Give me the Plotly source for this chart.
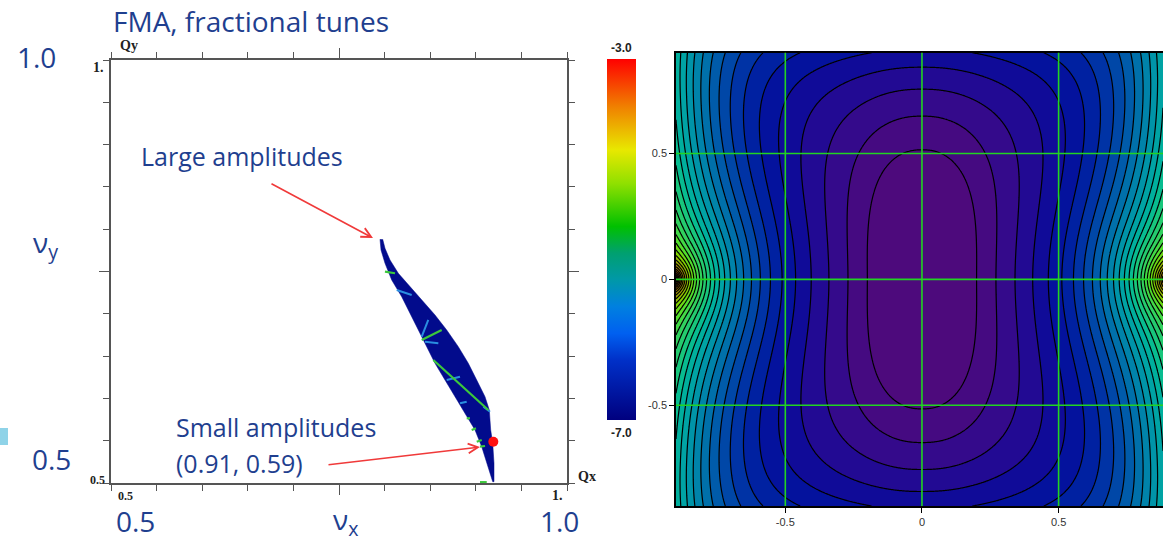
import numpy as np
import plotly.graph_objects as go

W, H = 1163, 541
BLUE = "#1F3F8F"

# ---------------- left panel: FMA footprint (fractional tunes) ----------------
qx_left = [0.79496, 0.79605, 0.80044, 0.80779, 0.81875, 0.82785, 0.83695, 0.84616, 0.85526,
           0.86623, 0.87719, 0.88816, 0.89912, 0.90647, 0.91195, 0.91634, 0.91853]
qy_left = [0.78806, 0.77541, 0.75969, 0.73995, 0.72021, 0.70059, 0.68085, 0.66111, 0.64149,
           0.62175, 0.60201, 0.58239, 0.56265, 0.54291, 0.52329, 0.50745, 0.50154]
qx_right = [0.91996, 0.91996, 0.91853, 0.91634, 0.91480, 0.91009, 0.90099, 0.89178, 0.88081,
            0.86809, 0.85526, 0.84243, 0.82785, 0.81502, 0.80592, 0.80044, 0.79792]
qy_right = [0.50154, 0.52329, 0.54693, 0.56265, 0.58629, 0.60201, 0.62175, 0.64149, 0.66111,
            0.68085, 0.69858, 0.71430, 0.73203, 0.74787, 0.76359, 0.77742, 0.78806]

green_streaks = [
    ((0.8534, 0.9137), (0.6454, 0.5863)),
    ((0.8407, 0.8626), (0.6690, 0.6809)),
    ((0.8004, 0.8114), (0.7498, 0.7479)),
    ((0.8900, 0.8936), (0.5765, 0.5765)),
    ((0.8955, 0.9002), (0.5626, 0.5646)),
    ((0.9010, 0.9065), (0.5488, 0.5508)),
    ((0.9046, 0.9101), (0.5429, 0.5437)),
    ((0.9046, 0.9120), (0.5010, 0.5010)),
]
cyan_streaks = [
    ((0.8133, 0.8297), (0.7281, 0.7222)),
    ((0.8407, 0.8479), (0.6729, 0.6927)),
    ((0.8443, 0.8589), (0.6670, 0.6651)),
    ((0.8681, 0.8827), (0.6217, 0.6256)),
    ((0.8827, 0.8900), (0.5942, 0.5961)),
    ((0.9083, 0.9156), (0.5902, 0.5843)),
]
small_amp_point = (0.9192, 0.5488)

diffusion_range = (-7.0, -3.0)
fma_colorscale = [
    [0.0, "#00007f"], [0.166, "#0030c8"], [0.24, "#0060f0"], [0.314, "#0080e0"],
    [0.388, "#0098a8"], [0.462, "#00a070"], [0.536, "#00c000"], [0.655, "#90e000"],
    [0.748, "#e8e800"], [0.868, "#f08000"], [1.0, "#ff0000"],
]

# ---------------- right panel: field map model ----------------
# growth profiles along x and y (coefficients of |t|, t^2, t^4), combined as a superellipse
px_coef = (17.56, -15.8, 21.2)
py_coef = (6.75, 0.0, 3.1)
n_super = 2.5
src_x = [-0.915, 0.915]          # singular points on the x axis
sigma, R0 = 5.0, 0.8             # strength and reach of the singular terms
first_level = 3.14               # value of the innermost drawn contour
grid_vals = [-0.5, 0.0, 0.5]
xg = np.linspace(-0.9, 0.882, 461)
yg = np.linspace(-0.9, 0.9, 461)

Xg, Yg = np.meshgrid(xg, yg)
ax_, ay_ = np.abs(Xg), np.abs(Yg)
P = px_coef[0] * ax_ + px_coef[1] * ax_**2 + px_coef[2] * ax_**4
Q = py_coef[0] * ay_ + py_coef[1] * ay_**2 + py_coef[2] * ay_**4
F = (P**n_super + Q**n_super) ** (1 / n_super)
S = sum(0.5 * sigma * np.log1p(R0**2 / ((Xg - sx) ** 2 + Yg**2)) for sx in src_x)
S0 = sum(0.5 * sigma * np.log1p(R0**2 / sx**2) for sx in src_x)
Z = F + S - S0 - first_level + 1.0     # innermost contour at level 1
Z = np.minimum(Z, 45)

band_colors = [
    [0, "#4d0a7c"], [1, "#3d0a86"], [2, "#2c0a8f"], [3, "#1a0a96"], [4, "#0a0c9a"],
    [5, "#00169e"], [6, "#0026a2"], [7, "#0038a6"], [8, "#004ca8"], [9, "#0060aa"],
    [10, "#0074aa"], [11, "#0086aa"], [12, "#0096a8"], [13, "#00a4a4"], [14, "#00b09c"],
    [15, "#08bc90"], [16, "#18c67c"], [18, "#30d060"], [20, "#50e030"], [22, "#80d800"],
    [24, "#a0b000"], [26, "#a08000"], [28, "#905000"], [32, "#703000"],
]
zmax = 32
field_colorscale = [[b / zmax, c] for b, c in band_colors]

# ---------------- figure ----------------
fig = go.Figure()

fig.add_trace(go.Scatter(
    x=qx_left + qx_right, y=qy_left + qy_right, mode="lines", fill="toself",
    fillcolor="#020b8c", line=dict(color="#020b8c", width=0.5),
    xaxis="x", yaxis="y", hoverinfo="skip", showlegend=False))
for xs, ys in cyan_streaks:
    fig.add_trace(go.Scatter(x=list(xs), y=list(ys), mode="lines",
                             line=dict(color="#2a8ee0", width=2), xaxis="x", yaxis="y",
                             showlegend=False, hoverinfo="skip"))
for xs, ys in green_streaks:
    fig.add_trace(go.Scatter(x=list(xs), y=list(ys), mode="lines",
                             line=dict(color="#3cc83c", width=2.2), xaxis="x", yaxis="y",
                             showlegend=False, hoverinfo="skip"))
fig.add_trace(go.Scatter(x=[small_amp_point[0]], y=[small_amp_point[1]], mode="markers",
                         marker=dict(color="#ff1010", size=10), xaxis="x", yaxis="y",
                         showlegend=False, hoverinfo="skip"))
fig.add_trace(go.Scatter(
    x=[0.6], y=[0.6], mode="markers", xaxis="x", yaxis="y", showlegend=False,
    hoverinfo="skip",
    marker=dict(size=0.1, opacity=0, color=[diffusion_range[0]], cmin=diffusion_range[0],
                cmax=diffusion_range[1], colorscale=fma_colorscale, showscale=True,
                colorbar=dict(x=607 / W, xanchor="left", y=1 - 239.5 / H, yanchor="middle",
                              lenmode="pixels", len=361, thicknessmode="pixels",
                              thickness=29, outlinewidth=0, showticklabels=False,
                              ticks="", xpad=0, ypad=0))))

fig.add_trace(go.Contour(
    x=xg, y=yg, z=Z, xaxis="x2", yaxis="y2", colorscale=field_colorscale,
    zmin=0, zmax=zmax, autocontour=False,
    contours=dict(start=1, end=45, size=1, coloring="fill"),
    line=dict(color="black", width=1.2), showscale=False, hoverinfo="skip"))

fig.update_layout(
    width=W, height=H, margin=dict(l=0, r=0, t=0, b=0),
    paper_bgcolor="white", plot_bgcolor="white", showlegend=False,
    xaxis=dict(domain=[111 / W, 567 / W], range=[0.5, 1.0], showgrid=False, zeroline=False,
               showline=True, linecolor="#555", linewidth=1.5, mirror="ticks",
               ticks="outside", tickvals=[0.75], ticklen=10, tickcolor="#555",
               tickwidth=1.3, showticklabels=False,
               minor=dict(tick0=0.5, dtick=0.05, ticks="outside", ticklen=6,
                          tickcolor="#555", tickwidth=1.3)),
    yaxis=dict(domain=[1 - 483 / H, 1 - 60 / H], range=[0.5, 1.0], showgrid=False,
               zeroline=False, showline=True, linecolor="#555", linewidth=1.5,
               mirror="ticks", ticks="outside", tickvals=[0.75], ticklen=10,
               tickcolor="#555", tickwidth=1.3, showticklabels=False,
               minor=dict(tick0=0.5, dtick=0.05, ticks="outside", ticklen=6,
                          tickcolor="#555", tickwidth=1.3)),
    xaxis2=dict(domain=[676 / W, 1.0], range=[-0.9, 0.882], showgrid=False, zeroline=False,
                showline=True, linecolor="black", linewidth=1.5, mirror=True,
                ticks="outside", tickvals=grid_vals, ticktext=["-0.5", "0", "0.5"],
                ticklen=5, tickcolor="black",
                tickfont=dict(family="Liberation Sans", size=11, color="#333"),
                anchor="y2", layer="above traces"),
    yaxis2=dict(domain=[1 - 506 / H, 1 - 52.7 / H], range=[-0.9, 0.9], showgrid=False,
                zeroline=False, showline=True, linecolor="black", linewidth=1.5,
                ticks="outside", tickvals=grid_vals, ticktext=["-0.5", "0", "0.5"],
                ticklen=5, tickcolor="black",
                tickfont=dict(family="Liberation Sans", size=11, color="#333"),
                anchor="x2", layer="above traces"),
)

shapes = []
for g in grid_vals:
    shapes.append(dict(type="line", xref="x2", yref="y2 domain", x0=g, x1=g, y0=0, y1=1,
                       line=dict(color="#22d422", width=1.6), layer="above"))
    shapes.append(dict(type="line", xref="x2 domain", yref="y2", x0=0, x1=1, y0=g, y1=g,
                       line=dict(color="#22d422", width=1.6), layer="above"))
shapes.append(dict(type="rect", xref="paper", yref="paper", x0=0, x1=8 / W,
                   y0=1 - 445 / H, y1=1 - 428 / H, fillcolor="#8fd3e8", line=dict(width=0)))
fig.update_layout(shapes=shapes)


def px(xp):
    return xp / W


def py(yp):
    return 1 - yp / H


ann = []


def text(s, xp, yp, size, color=BLUE, family="Open Sans", xanchor="center", bold=False):
    ann.append(dict(text=(f"<b>{s}</b>" if bold else s), x=px(xp), y=py(yp), xref="paper",
                    yref="paper", xanchor=xanchor, yanchor="middle", showarrow=False,
                    font=dict(family=family, size=size, color=color)))


text("FMA, fractional tunes", 111, 21, 28, xanchor="left")
text("1.0", 36, 57, 28)
text("ν<sub>y</sub>", 45, 244, 28)
text("0.5", 51, 459, 28)
text("0.5", 135, 521, 28)
text("ν<sub>x</sub>", 345, 521, 28)
text("1.0", 559, 521, 28)
text("Large amplitudes", 139, 156, 25, xanchor="left")
text("Small amplitudes", 174, 427, 25, xanchor="left")
text("(0.91, 0.59)", 174, 463, 25, xanchor="left")

serif = "Liberation Serif"
text("Qy", 129, 46, 14, color="#222", family=serif, bold=True)
text("1.", 106, 67, 14, color="#222", family=serif, xanchor="right", bold=True)
text("0.5", 107, 480, 12, color="#222", family=serif, xanchor="right", bold=True)
text("Qx", 576, 476, 14, color="#222", family=serif, xanchor="left", bold=True)
text("0.5", 125, 496, 12, color="#222", family=serif, bold=True)
text("1.", 557, 496, 14, color="#222", family=serif, bold=True)
text("-3.0", 621, 48, 12, color="#222", family="Liberation Sans", bold=True)
text("-7.0", 621, 433, 12, color="#222", family="Liberation Sans", bold=True)

ann.append(dict(x=px(373), y=py(238), ax=270 - 373, ay=183 - 238, xref="paper",
                yref="paper", axref="pixel", ayref="pixel", text="", showarrow=True,
                arrowhead=5, arrowsize=1.2, arrowwidth=1.6, arrowcolor="#f03a3a"))
ann.append(dict(x=px(480), y=py(447), ax=327 - 480, ay=465 - 447, xref="paper",
                yref="paper", axref="pixel", ayref="pixel", text="", showarrow=True,
                arrowhead=5, arrowsize=1.2, arrowwidth=1.6, arrowcolor="#f03a3a"))
fig.update_layout(annotations=ann)

fig.write_html("out.html")
